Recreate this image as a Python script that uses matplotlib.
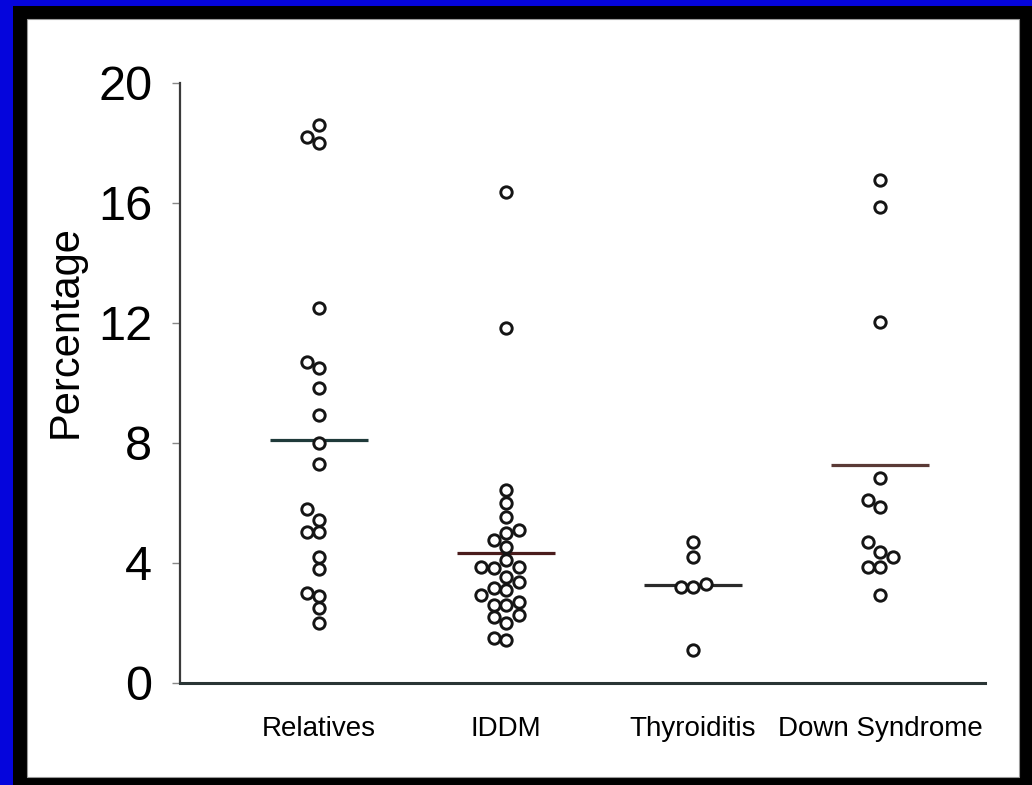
import numpy as np
import matplotlib
matplotlib.use("Agg")
import matplotlib.pyplot as plt
from matplotlib.patches import Rectangle
from matplotlib import font_manager

# ---------------- data ----------------
categories = ["Relatives", "IDDM", "Thyroiditis", "Down Syndrome"]
relatives = [18.6, 18.2, 18.0, 12.5, 10.7, 10.5, 9.85, 8.95, 8.0, 7.3,
             5.8, 5.45, 5.05, 5.05, 4.2, 3.8, 3.0, 2.9, 2.5, 2.0]
iddm = [16.36, 11.82, 6.43, 5.99, 5.54, 5.1, 4.99, 4.77, 4.54, 4.1,
        3.88, 3.88, 3.82, 3.54, 3.38, 3.16, 3.1, 2.93, 2.71, 2.6,
        2.6, 2.27, 2.21, 1.99, 1.49, 1.43]
thyroiditis = [4.71, 4.19, 3.3, 3.2, 3.2, 1.1]
down_syndrome = [16.77, 15.86, 12.04, 6.82, 6.1, 5.86, 4.71, 4.38,
                 4.21, 3.88, 3.88, 2.93]
group_lines = [8.1, 4.32, 3.27, 7.27]
yticks = [0, 4, 8, 12, 16, 20]
ylabel = "Percentage"

groups = [relatives, iddm, thyroiditis, down_syndrome]
line_colors = ["#1f3a3a", "#4a1c1c", "#2a2a2a", "#5a3a36"]

# ---------------- fonts ----------------
avail = {f.name for f in font_manager.fontManager.ttflist}
narrow = "Liberation Sans Narrow" if "Liberation Sans Narrow" in avail else "Liberation Sans"
plt.rcParams["font.family"] = [narrow, "DejaVu Sans"]

W, H = 1032, 785
fig = plt.figure(figsize=(W / 100, H / 100), dpi=100)
fig.patch.set_facecolor("#0505dc")

def px_rect(x0, y0, x1, y1, **kw):
    r = Rectangle((x0 / W, 1 - y1 / H), (x1 - x0) / W, (y1 - y0) / H,
                  transform=fig.transFigure, **kw)
    fig.add_artist(r)

px_rect(13, 6, W, H, facecolor="black", edgecolor="none", zorder=0)
px_rect(27, 19, 1019, 777, facecolor="white", edgecolor="#9a9a9a",
        linewidth=0.8, zorder=0)

# axes placement (pixels)
ax_left, ax_right, ax_top, ax_bottom = 180, 985, 83, 683
ax = fig.add_axes([ax_left / W, 1 - ax_bottom / H,
                   (ax_right - ax_left) / W, (ax_bottom - ax_top) / H])
ax.set_facecolor("none")

x0_px, spacing_px = 319, 187
xmin = (ax_left - x0_px) / spacing_px
xmax = (ax_right - x0_px) / spacing_px
ax.set_xlim(xmin, xmax)
ax.set_ylim(0, 20)

# pixel scales for a simple swarm layout
px_per_x = spacing_px
px_per_y = (ax_bottom - ax_top) / 20.0
slot_px = 12.5
diam_px = 11.0

def swarm(vals):
    order = np.argsort(vals)
    placed = []
    offs = np.zeros(len(vals))
    for i in order:
        y = vals[i] * px_per_y
        for k in [0, -1, 1, -2, 2, -3, 3]:
            x = k * slot_px
            if all((x - px) ** 2 + (y - py) ** 2 >= diam_px ** 2 for px, py in placed):
                placed.append((x, y))
                offs[i] = x / px_per_x
                break
    return offs

for gi, vals in enumerate(groups):
    vals = np.asarray(vals, dtype=float)
    offs = swarm(vals)
    ax.plot(gi + offs, vals, linestyle="none", marker="o", markersize=8.2,
            markerfacecolor="white", markeredgecolor="#151515",
            markeredgewidth=2.1, zorder=3)
    half = 49 / px_per_x
    ax.plot([gi - half, gi + half], [group_lines[gi]] * 2,
            color=line_colors[gi], linewidth=2.3, zorder=2,
            solid_capstyle="butt")

for s in ["top", "right"]:
    ax.spines[s].set_visible(False)
ax.spines["left"].set_color("#3a3a3a")
ax.spines["left"].set_linewidth(1.6)
ax.spines["bottom"].set_color("#2a3535")
ax.spines["bottom"].set_linewidth(2.2)

ax.set_yticks(yticks)
ax.set_yticklabels([str(t) for t in yticks])
ax.tick_params(axis="y", direction="out", length=6, width=1.0,
               color="#888888", labelsize=35, pad=14)
ax.set_xticks(range(len(categories)))
ax.set_xticklabels(categories)
ax.tick_params(axis="x", length=0, labelsize=20, pad=24)

ax.set_ylabel(ylabel, fontsize=30)
ax.yaxis.set_label_coords(-0.117, 0.585)

fig.savefig("out.png", dpi=100, facecolor=fig.get_facecolor())
